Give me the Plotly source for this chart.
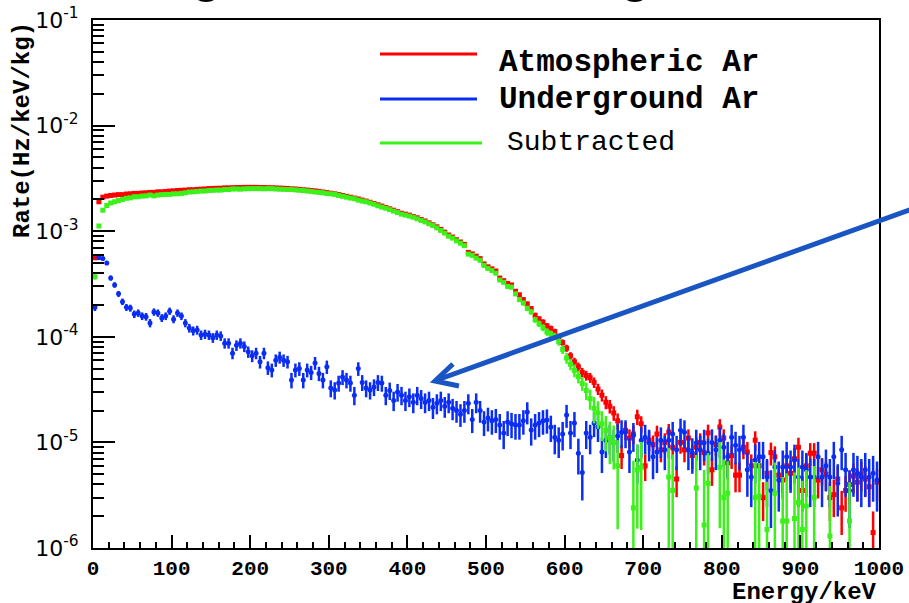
import math
import plotly.graph_objects as go

# ---------------- data (rates in micro-Hz/keV/kg, 5 keV bins) ----------------
bin_width_keV = 5
n_bins = 200
energy_keV = [bin_width_keV * (i + 0.5) for i in range(n_bins)]

atmospheric_uHz = [
    560, 1900, 2100, 2150, 2180, 2200, 2220, 2220, 2250, 2260,
    2280, 2280, 2300, 2310, 2330, 2330, 2360, 2360, 2380, 2400,
    2410, 2430, 2440, 2450, 2470, 2470, 2490, 2500, 2510, 2530,
    2540, 2550, 2550, 2570, 2570, 2580, 2590, 2590, 2600, 2600,
    2600, 2600, 2590, 2590, 2580, 2580, 2570, 2560, 2550, 2540,
    2520, 2510, 2490, 2470, 2450, 2430, 2410, 2380, 2350, 2320,
    2290, 2260, 2220, 2180, 2140, 2100, 2060, 2020, 1970, 1930,
    1880, 1830, 1780, 1730, 1680, 1630, 1580, 1530, 1480, 1450,
    1420, 1380, 1340, 1290, 1250, 1200, 1150, 1100, 1040, 980,
    920, 880, 830, 790, 750, 630, 610, 580, 550, 490,
    460, 440, 420, 360, 340, 320, 310, 270, 250, 225,
    205, 185, 160, 148, 138, 127, 120, 112, 100, 88,
    78, 66, 58, 52, 46, 43, 41, 37, 32, 28,
    24, 22, 19, 16, 7.5, 13, 11, 12, 17.5, 15,
    6.0, 10.5, 9.5, 12, 8.5, 10, 12.5, 9.0, 4.5, 10,
    8.5, 11, 7.5, 9.0, 10, 8.0, 12.3, 5.5, 9.5, 14,
    11, 6.4, 7.5, 4.9, 4.9, 9.0, 8.1, 6.0, 10.5, 6.0,
    3.0, 5.1, 8.0, 7.3, 4.9, 4.4, 6.0, 5.1, 7.0, 9.0,
    3.5, 6.0, 7.9, 7.9, 4.4, 5.5, 5.0, 3.0, 3.2, 4.5,
    2.4, 3.5, 4.0, 4.8, 4.2, 5.0, 4.5, 3.8, 1.4, 4.2,
]

underground_uHz = [
    190, 560, 550, 500, 360, 310, 255, 215, 190, 187,
    164, 168, 157, 155, 135, 172, 168, 151, 157, 175,
    147, 168, 157, 135, 121, 114, 116, 104, 106, 104,
    98, 104, 102, 87, 87, 70, 83, 87, 81, 72,
    66, 70, 58, 70, 51, 48.5, 60, 64, 60, 58,
    39, 48.5, 50, 39, 48.5, 46, 56.5, 45, 39, 52,
    32.7, 31.3, 36.5, 41.6, 39, 36.5, 28, 50, 37, 32.7,
    31.3, 33.5, 37, 36.5, 28, 31, 25, 30, 28, 25,
    27, 24, 28, 26, 24, 25, 21.5, 23.5, 25, 22,
    24, 21, 20, 18.5, 20, 23.5, 16.5, 24, 20, 15.6,
    17, 16, 16.5, 14.6, 12.3, 15.6, 15, 14.6, 14.6, 16,
    19.4, 13.1, 14.6, 15.3, 16, 16.3, 14, 11.2, 10.5, 12,
    18.2, 12.3, 15.3, 7.9, 5.2, 12.3, 11.2, 15.3, 14, 8.1,
    10.5, 11.2, 9.9, 11.5, 12.5, 12.5, 8.1, 11.7, 6.8, 10.5,
    11.2, 9.9, 7.3, 8.1, 10.5, 8.5, 10.5, 12, 8.5, 13,
    12.5, 8.5, 8.0, 9.9, 8.5, 9.9, 7.9, 10, 8.5, 10.5,
    9.0, 7.3, 11.2, 9.4, 8.5, 11.2, 5.5, 4.7, 6.8, 7.3,
    7.3, 4.7, 3.5, 5.85, 4.4, 5.85, 7.3, 5.85, 6.8, 4.7,
    5.85, 5.5, 4.7, 4.7, 7.3, 4.7, 6.0, 4.7, 7.3, 4.1,
    8.5, 5.5, 3.5, 5.5, 5.1, 4.7, 5.5, 4.7, 5.1, 4.4,
]

subtracted_uHz = [
    370, 1120, 1580, 1750, 1850, 1900, 1950, 2000, 2050, 2070,
    2120, 2120, 2150, 2160, 2200, 2160, 2200, 2220, 2230, 2230,
    2260, 2260, 2280, 2310, 2350, 2360, 2380, 2400, 2400, 2430,
    2440, 2450, 2450, 2480, 2480, 2510, 2510, 2500, 2520, 2530,
    2530, 2530, 2530, 2520, 2530, 2530, 2510, 2500, 2490, 2480,
    2480, 2460, 2440, 2430, 2400, 2380, 2350, 2330, 2310, 2270,
    2260, 2230, 2180, 2140, 2100, 2060, 2030, 1970, 1930, 1900,
    1850, 1800, 1740, 1690, 1650, 1600, 1550, 1500, 1450, 1420,
    1390, 1355, 1310, 1265, 1225, 1175, 1130, 1075, 1015, 958,
    896, 860, 810, 770, 730, 607, 590, 556, 530, 474,
    444, 424, 400, 345, 328, 300, 295, 255, 225, 209,
    186, 172, 145, 133, 122, 111, 106, 101, 90, 76,
    63, 55, 48, 42, 36, 31, 26, 21, 19, 15,
    13, 11, 10, 6.0, None, None, None, 2.4, 5.5, 5.8,
    None, None, None, None, None, None, 4.7, 3.5, None, None,
    None, None, None, 3.7, None, 1.65, 4.1, None, None, 5.8,
    3.0, 3.3, None, None, None, None, None, None, 3.0, 3.1,
    None, 1.5, None, 3.3, None, 1.8, 1.8, None, 1.9, 2.7,
    1.5, 2.5, None, 3.0, None, None, None, 1.3, None, None,
    None, None, 1.8, None, None, None, None, None, None, None,
]

# statistical error scale (uHz): sigma = sqrt(k * rate)
atm_stat_k = 0.48
ug_stat_k = 1.09

x_tick_vals = [0, 100, 200, 300, 400, 500, 600, 700, 800, 900, 1000]
y_tick_vals = [1e-6, 1e-5, 1e-4, 1e-3, 1e-2, 1e-1]
y_tick_text = ["10<sup>-6</sup>", "10<sup>-5</sup>", "10<sup>-4</sup>",
               "10<sup>-3</sup>", "10<sup>-2</sup>", "10<sup>-1</sup>"]
legend_labels = ["Atmospheric Ar", "Underground Ar", "Subtracted"]
x_title = "Energy/keV"
y_title = "Rate(Hz/keV/kg)"

# ---------------- derived ----------------
U = 1e-6
atm = [v * U for v in atmospheric_uHz]
ug = [v * U for v in underground_uHz]
sub = [None if v is None else v * U for v in subtracted_uHz]
atm_err = [math.sqrt(atm_stat_k * v) * U for v in atmospheric_uHz]
ug_err = [math.sqrt(ug_stat_k * v) * U for v in underground_uHz]
sub_err = [None if s is None else math.sqrt(atm_stat_k * a + ug_stat_k * b) * U
           for s, a, b in zip(subtracted_uHz, atmospheric_uHz, underground_uHz)]

RED = "#ff0000"
BLUE = "#0a2df5"
GREEN = "#3cf01a"
ARROW = "#1a55c4"

fig = go.Figure()

def add_series(y, err, color, symbol):
    fig.add_trace(go.Scatter(
        x=energy_keV, y=y, mode="markers",
        marker=dict(symbol=symbol, size=5, color=color, line=dict(width=0)),
        error_y=dict(type="data", array=err, visible=True, thickness=2.5,
                     width=0, color=color),
        showlegend=False, hoverinfo="skip",
    ))

add_series(atm, atm_err, RED, "square")
add_series(ug, ug_err, BLUE, "circle")
add_series(sub, sub_err, GREEN, "square")

L, R, T, B = 93, 30, 20, 55
W, H = 909, 603
PW, PH = W - L - R, H - T - B

def px(xp):
    return (xp - L) / PW

def py(yp):
    return (H - B - yp) / PH

fig.update_layout(
    width=W, height=H,
    margin=dict(l=L, r=R, t=T, b=B, pad=0, autoexpand=False),
    paper_bgcolor="white", plot_bgcolor="white",
    font=dict(family="DejaVu Sans", color="black"),
    showlegend=False,
    xaxis=dict(
        range=[0, 1000], tickvals=x_tick_vals, ticks="inside", ticklen=13,
        tickwidth=2, tickcolor="black", showline=True, linewidth=2,
        linecolor="black", mirror=True, showgrid=False, zeroline=False,
        automargin=False,
        tickfont=dict(family="Liberation Mono", size=21, weight="bold"),
        ticklabelstandoff=0,
        minor=dict(dtick=20, ticks="inside", ticklen=6, tickwidth=2,
                   tickcolor="black", showgrid=False),
    ),
    yaxis=dict(
        type="log", range=[-6, -1], tickvals=y_tick_vals, ticktext=y_tick_text,
        ticks="inside", ticklen=22, tickwidth=2, tickcolor="black",
        showline=True, linewidth=2, linecolor="black", mirror=True,
        showgrid=False, zeroline=False, automargin=False,
        tickfont=dict(family="DejaVu Sans", size=22),
        ticklabelstandoff=8,
        minor=dict(dtick="D1", ticks="inside", ticklen=11, tickwidth=2,
                   tickcolor="black", showgrid=False),
    ),
)

annotations = []
shapes = []

# axis titles
annotations.append(dict(
    text=x_title, xref="paper", yref="paper", x=px(879), y=py(592),
    xanchor="right", yanchor="middle", showarrow=False,
    font=dict(family="Liberation Mono", size=24, weight="bold", color="black"),
))
annotations.append(dict(
    text=y_title, xref="paper", yref="paper", x=px(22), y=py(130),
    xanchor="center", yanchor="middle", showarrow=False, textangle=-90,
    font=dict(family="Liberation Mono", size=24, weight="bold", color="black"),
))

# legend (drawn manually)
leg = [
    (legend_labels[0], RED, 54, 63, 477, 497, 31, "bold"),
    (legend_labels[1], BLUE, 99, 99, 477, 497, 31, "bold"),
    (legend_labels[2], GREEN, 143, 143, 482, 505, 28, "normal"),
]
for text, col, yl, yt, xe, xt, fs, fw in leg:
    shapes.append(dict(type="line", xref="paper", yref="paper",
                       x0=px(380), x1=px(xe), y0=py(yl), y1=py(yl),
                       line=dict(color=col, width=3)))
    annotations.append(dict(
        text=text, xref="paper", yref="paper", x=px(xt), y=py(yt),
        xanchor="left", yanchor="middle", showarrow=False,
        font=dict(family="Liberation Mono", size=fs, weight=fw, color="black"),
    ))

# arrow
shapes.append(dict(type="line", xref="paper", yref="paper",
                   x0=px(437), y0=py(380), x1=px(915), y1=py(208),
                   line=dict(color=ARROW, width=5)))
shapes.append(dict(type="path", xref="paper", yref="paper",
                   path="M {:.4f} {:.4f} L {:.4f} {:.4f} L {:.4f} {:.4f}".format(
                       px(453), py(364), px(435), py(381), px(459), py(386)),
                   line=dict(color=ARROW, width=5)))

# cut-off slide title above the frame
annotations.append(dict(
    text="Background Rate in Argon", xref="paper", yref="paper",
    x=px(67), y=py(4), xanchor="left", yanchor="bottom", showarrow=False,
    font=dict(family="Liberation Sans", size=51, weight="bold", color="black"),
))

fig.update_layout(annotations=annotations, shapes=shapes)

fig.write_html("out.html", config={"displayModeBar": False},
               post_script="document.body.style.margin='0';")
